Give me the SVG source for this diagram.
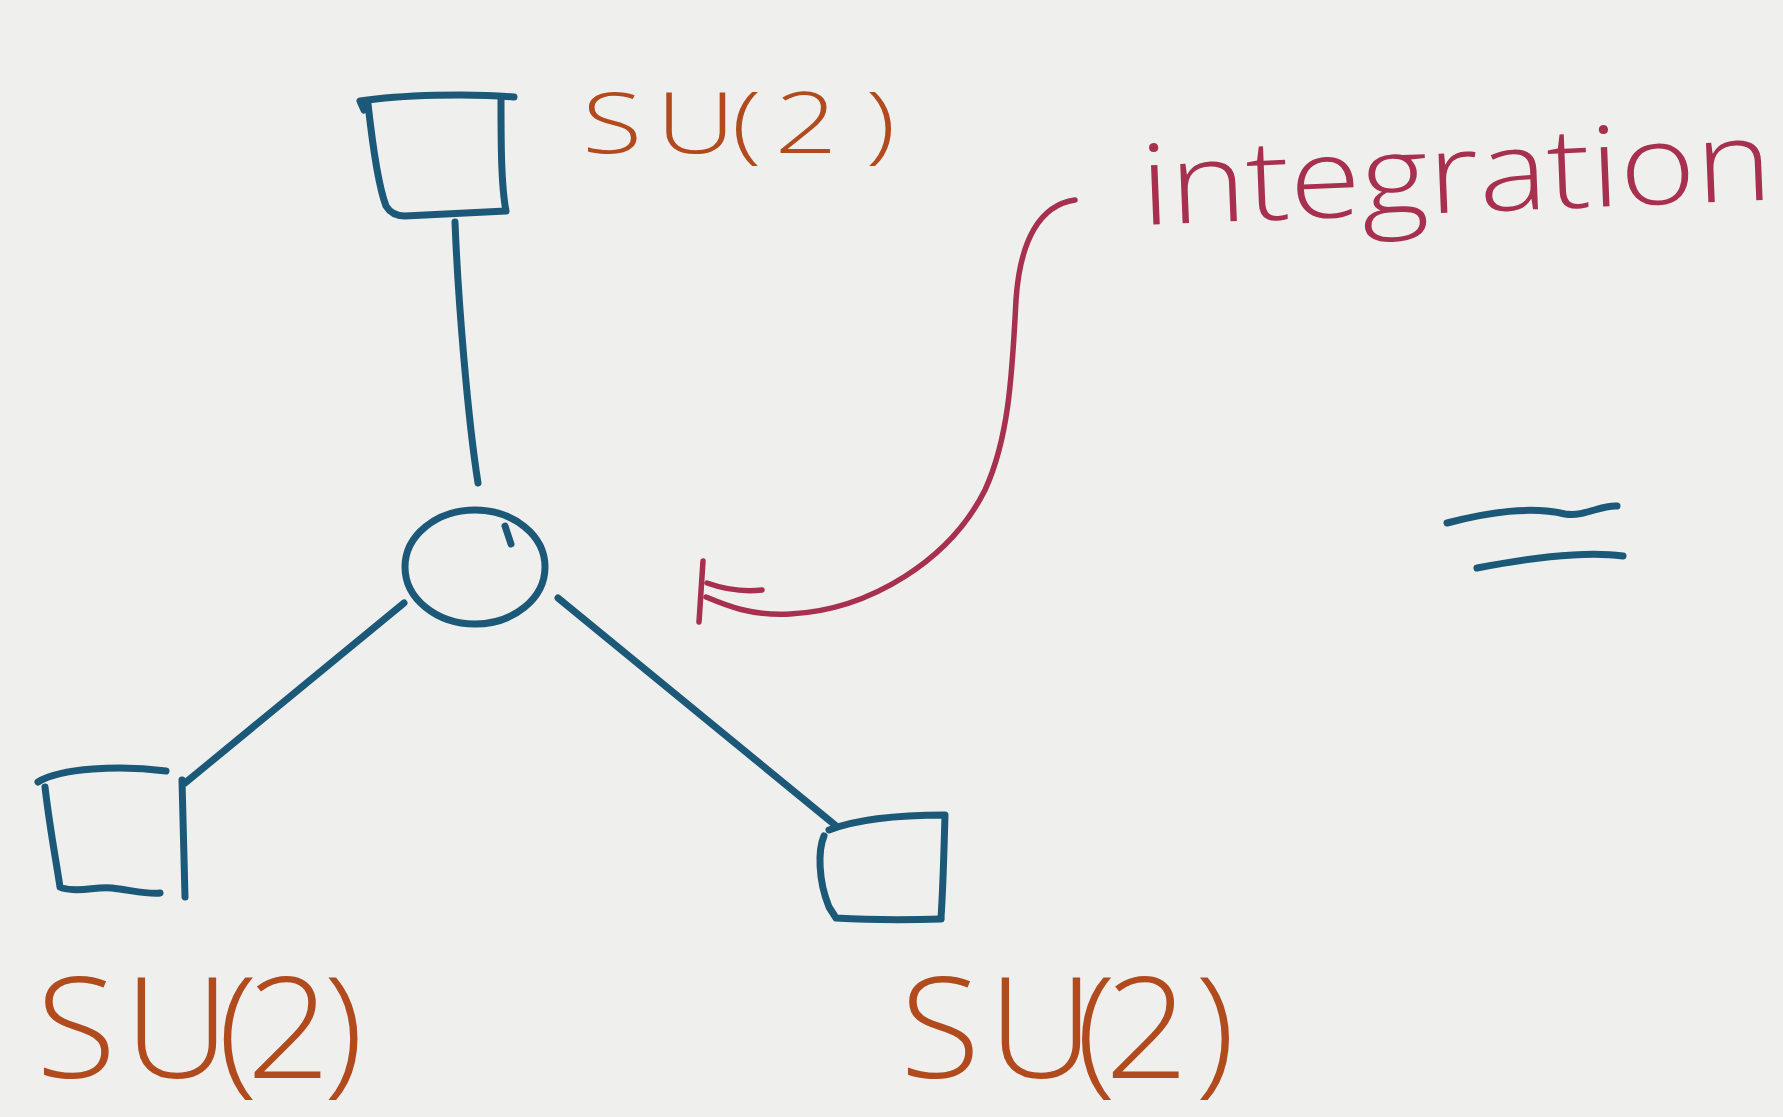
<svg xmlns="http://www.w3.org/2000/svg" width="1783" height="1117" viewBox="0 0 1783 1117">
<style>
.blue{fill:none;stroke:#1c5877;stroke-width:7;stroke-linecap:round;stroke-linejoin:round}
.red{fill:none;stroke:#a8304f;stroke-width:5.5;stroke-linecap:round;stroke-linejoin:round}
.lbl{fill:#b14a1d;font-family:"Open Sans","Liberation Sans",sans-serif;font-weight:300}
.intg{fill:#a8304f;font-family:"Open Sans","Liberation Sans",sans-serif;font-weight:300}
</style>
<rect width="1783" height="1117" fill="#efefee"/>
<g id="connectors">
<path class="blue" d="M455,222 C458,300 468,420 478,483"/>
<path class="blue" d="M404,603 L185,783"/>
<path class="blue" d="M558,598 L835,825"/>
</g>
<g id="node-top">
<path class="blue" d="M364,110 L360,101 C400,95 470,93 514,97"/>
<path class="blue" d="M368,104 C372,140 378,185 386,206 Q392,216 405,216 L506,211 M501,99 C501,140 501,185 506,211"/>
</g>
<g id="node-center">
<ellipse class="blue" cx="475" cy="567" rx="70" ry="57"/>
<path class="blue" d="M505,526 L511,544"/>
</g>
<g id="node-ll">
<path class="blue" d="M38,782 C60,768 120,765 166,771"/>
<path class="blue" d="M45,787 C50,830 56,860 60,887 M62,888 C80,893 96,886 112,888 C130,890 150,895 160,893 M182,780 C183,820 184,860 185,897"/>
</g>
<g id="node-lr">
<path class="blue" d="M829,830 C860,818 900,815 945,815 C944,850 943,890 941,918"/>
<path class="blue" d="M824,836 C818,850 818,880 829,907 L836,918 C870,920 910,920 941,919"/>
</g>
<g id="labels">
<text class="lbl" font-size="85" font-weight="400" transform="translate(582,153) scale(1.3,1)" x="0 57 115 148 218" y="0">SU(2)</text>
<text class="lbl" font-size="128" transform="translate(36,1078) scale(1.15,1.1)" x="0 76.5 158 183 250" y="0">SU(2)</text>
<text class="lbl" font-size="128" transform="translate(900,1078) scale(1.15,1.1)" x="0 76.5 153 178 256.5" y="0">SU(2)</text>
</g>
<g id="integration">
<text class="intg" font-size="112" x="1142" y="225" textLength="632" lengthAdjust="spacingAndGlyphs" transform="rotate(-2.3 1142 225)">integration</text>
<path class="red" d="M1075,200 C1040,205 1020,240 1016,300 C1012,380 1008,440 985,490 C950,560 870,610 790,614 C750,616 725,605 706,597"/>
<path class="red" stroke-width="8" d="M703,561 L699,622"/>
<path class="red" d="M707,583 Q735,593 762,590"/>
</g>
<g id="equals">
<path class="blue" stroke-width="8" d="M1447,523 C1490,512 1530,506 1565,514 C1585,517 1600,505 1617,506"/>
<path class="blue" stroke-width="8" d="M1477,568 C1520,560 1580,550 1623,556"/>
</g>
</svg>
